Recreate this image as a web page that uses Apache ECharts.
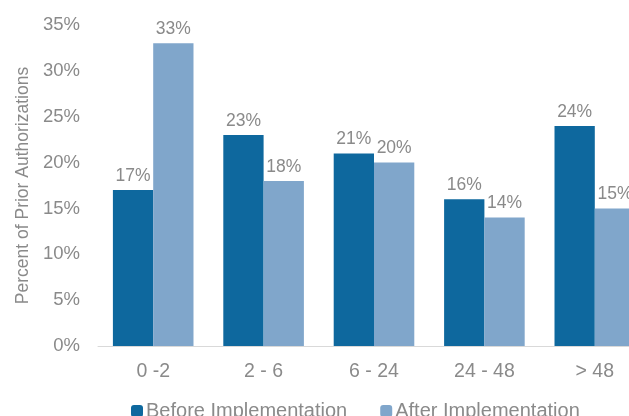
<!DOCTYPE html>
<html><head><meta charset="utf-8">
<script src="https://cdn.jsdelivr.net/npm/echarts@6/dist/echarts.min.js"></script>
<style>html,body{margin:0;padding:0;background:#fff;overflow:hidden;width:629px;height:416px}#c{width:680px;height:416px}</style>
</head><body><div id="c"></div>
<script>
var categories = ['0 -2', '2 - 6', '6 - 24', '24 - 48', '> 48'];
var beforeValues = [17, 23, 21, 16, 24];
var afterValues = [33, 18, 20, 14, 15];
var seriesNames = ['Before Implementation', 'After Implementation'];
var yTicks = [0, 5, 10, 15, 20, 25, 30, 35];

var chart = echarts.init(document.getElementById('c'));
var font = 'Liberation Sans, Arial, sans-serif';
var gray = '#8a8a8a';
var labelCfg = {show: true, position: 'top', distance: 5, formatter: '{c}%', color: gray, fontSize: 17.5, fontFamily: font};
chart.setOption({
  animation: false,
  grid: {left: 98, top: 25, width: 552, bottom: 70, containLabel: false},
  legend: {
    top: 396, left: 126, itemWidth: 12, itemHeight: 12, itemGap: 33,
    textStyle: {color: gray, fontSize: 20, fontFamily: font, padding: [0,0,0,-2]},
    data: seriesNames
  },
  xAxis: {
    type: 'category', data: categories,
    axisLine: {lineStyle: {color: '#d9d9d9', width: 1}},
    axisTick: {show: false},
    axisLabel: {color: gray, fontSize: 19.5, fontFamily: font, margin: 16}
  },
  yAxis: {
    type: 'value', min: 0, max: 35, interval: 5,
    name: 'Percent of Prior Authorizations', nameLocation: 'middle', nameGap: 65,
    nameTextStyle: {color: gray, fontSize: 17.5, fontFamily: font},
    splitLine: {show: false}, axisLine: {show: false}, axisTick: {show: false},
    axisLabel: {color: gray, fontSize: 18.5, fontFamily: font, margin: 18, formatter: function(v){return yTicks.indexOf(v) >= 0 ? v + '%' : '';}}
  },
  series: [
    {name: seriesNames[0], type: 'bar', data: beforeValues, barGap: '0%', barCategoryGap: '27%',
     itemStyle: {color: '#0E689E'}, label: labelCfg},
    {name: seriesNames[1], type: 'bar', data: afterValues,
     itemStyle: {color: '#80A6CB'}, label: labelCfg}
  ]
});
</script></body></html>
